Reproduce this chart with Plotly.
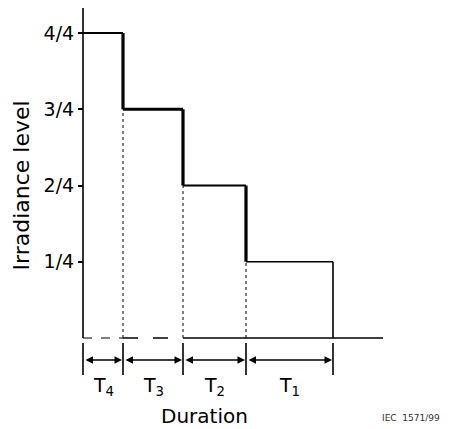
import plotly.graph_objects as go

# Data
periods = ["T<sub>4</sub>", "T<sub>3</sub>", "T<sub>2</sub>", "T<sub>1</sub>"]
levels = [4, 3, 2, 1]                 # irradiance level in quarters
durations = [40, 60, 63, 87]          # relative duration of each step
tick_vals = [1, 2, 3, 4]
tick_text = ["1/4", "2/4", "3/4", "4/4"]
x_axis_end = 300
y_axis_top = 4.33

FONT = "DejaVu Sans"
K = "black"

bounds = [0]
for d in durations:
    bounds.append(bounds[-1] + d)

fig = go.Figure()

def seg(x0, y0, x1, y1, w=1.5, dash="solid"):
    fig.add_trace(go.Scatter(x=[x0, x1], y=[y0, y1], mode="lines",
                             line=dict(color=K, width=w, dash=dash),
                             hoverinfo="skip", showlegend=False))

# y axis line
seg(0, 0, 0, y_axis_top, 1.6)
# baseline
seg(0, 0, bounds[1], 0, 1.2, "dash")
seg(bounds[1], 0, bounds[2], 0, 1.4, "longdash")
seg(bounds[2], 0, x_axis_end, 0, 1.6)

# step profile
h_widths = [2.2, 3.2, 2.2, 1.6]
v_widths = [3.2, 3.2, 3.2, 1.6]
for i, lv in enumerate(levels):
    seg(bounds[i], lv, bounds[i + 1], lv, h_widths[i])
    nxt = levels[i + 1] if i + 1 < len(levels) else 0
    seg(bounds[i + 1], lv, bounds[i + 1], nxt, v_widths[i])
    if i + 1 < len(levels):
        seg(bounds[i + 1], 0, bounds[i + 1], nxt, 1, "dot")

# duration markers
for b in bounds:
    seg(b, -0.066, b, -0.485, 1.6)

annotations = []
for i, lab in enumerate(periods):
    annotations.append(dict(x=bounds[i + 1], y=-0.289, ax=bounds[i], ay=-0.289,
                            xref="x", yref="y", axref="x", ayref="y", text="",
                            showarrow=True, arrowhead=2, arrowside="end+start",
                            arrowsize=1.0, arrowwidth=1.5, arrowcolor=K,
                            standoff=1, startstandoff=1))
    annotations.append(dict(x=(bounds[i] + bounds[i + 1]) / 2, y=-0.63,
                            xref="x", yref="y", text=lab, showarrow=False,
                            font=dict(family=FONT, size=19, color=K)))

annotations.append(dict(x=121, y=-1.02, xref="x", yref="y", text="Duration",
                        showarrow=False, font=dict(family=FONT, size=20, color=K)))
annotations.append(dict(x=-61, y=2.0, xref="x", yref="y", text="Irradiance level",
                        textangle=-90, showarrow=False,
                        font=dict(family=FONT, size=22, color=K)))
annotations.append(dict(x=1.0, y=-1.05, xref="paper", yref="y", xanchor="right",
                        text="IEC  1571/99", showarrow=False,
                        font=dict(family=FONT, size=9, color="#333")))

# page body has an 8px margin, so the figure is smaller and offset by 8px
W, H = 434, 421
fig.update_layout(
    width=W, height=H, autosize=False,
    margin=dict(l=0, r=0, t=0, b=0),
    paper_bgcolor="white", plot_bgcolor="white",
    xaxis=dict(range=[-75, W - 75], visible=False, fixedrange=True),
    yaxis=dict(range=[4.328 - H / 76.25, 4.328], anchor="free", position=75 / W,
               tickvals=tick_vals, ticktext=tick_text, ticks="outside",
               ticklen=5, tickwidth=1.5, tickcolor=K,
               showgrid=False, zeroline=False, showline=False,
               tickfont=dict(family=FONT, size=19, color=K)),
    annotations=annotations,
    showlegend=False,
)

fig.write_html("out.html")
